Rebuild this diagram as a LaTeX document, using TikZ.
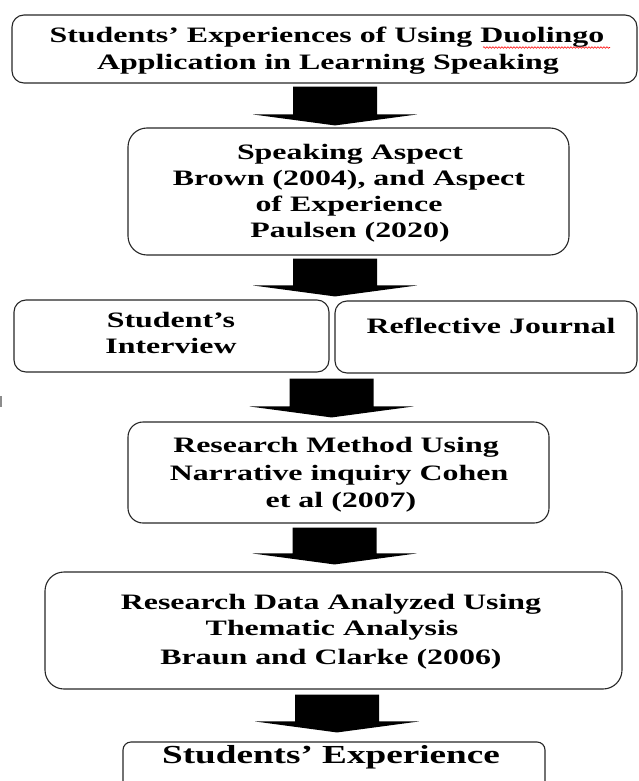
\documentclass[tikz,border=0pt]{standalone}
\usepackage{fontspec}
\setmainfont{Liberation Serif}
\usetikzlibrary{calc,decorations.pathmorphing}
\tikzset{
  box/.style={draw=black!85, line width=1.1pt, rounded corners=#1, inner sep=0pt},
  box/.default=12pt,
  txt/.style={font=\fontsize{22}{26}\selectfont\bfseries, xscale=1.45, anchor=base, inner sep=0pt},
  bigtxt/.style={font=\fontsize{26}{30}\selectfont\bfseries, xscale=1.43, anchor=base, inner sep=0pt},
  arrowfill/.style={fill=black},
  spell/.style={draw=red, line width=0.6pt, decorate, decoration={snake, amplitude=0.8pt, segment length=3pt}}
}
% block arrow: #1 centre x, #2 from node, #3 to node, #4 gap below #2, #5 gap above #3
\newcommand\blockarrow[5]{%
  \fill[arrowfill] let \p1=(#2.south), \p2=(#3.north) in
    ({#1pt-42pt},{\y1-#4pt}) -- ({#1pt+42pt},{\y1-#4pt}) --
    ({#1pt+42pt},{\y2+#5pt+11pt}) -- ({#1pt+82pt},{\y2+#5pt+11pt}) --
    ({#1pt},{\y2+#5pt}) --
    ({#1pt-82pt},{\y2+#5pt+11pt}) -- ({#1pt-42pt},{\y2+#5pt+11pt}) -- cycle;}
\begin{document}
\begin{tikzpicture}[x=1pt,y=-1pt]
\useasboundingbox (0,0) rectangle (639,781);
\clip (0,0) rectangle (639,781);

% boxes
\node[box=12pt, minimum width=625pt, minimum height=68pt] (b1) at (324.5,49) {};
\node[box=19pt, minimum width=441pt, minimum height=127pt] (b2) at (348.5,191.5) {};
\node[box=12pt, minimum width=315pt, minimum height=72pt] (b3a) at (171.5,336) {};
\node[box=12pt, minimum width=302pt, minimum height=72pt] (b3b) at (486,337) {};
\node[box=15pt, minimum width=421pt, minimum height=101pt] (b4) at (338.5,472.5) {};
\node[box=19pt, minimum width=577pt, minimum height=117pt] (b5) at (333.5,630.5) {};
\node[box=8pt, minimum width=422pt, minimum height=88pt] (b6) at (334,786) {};

% texts
\node[txt] (t1a) at (327,43) {Students’ Experiences of Using Duolingo};
\node[txt] (t1b) at (328,70) {Application in Learning Speaking};
\draw[spell] (483,47.5) -- (610,47.5);

\node[txt] (t2a) at (350,159) {Speaking Aspect};
\node[txt] (t2b) at (349,185) {Brown (2004), and Aspect};
\node[txt] (t2c) at (349,211) {of Experience};
\node[txt] (t2d) at (350,237) {Paulsen (2020)};

\node[txt] (t3a) at (171,327) {Student’s};
\node[txt] (t3b) at (171,353) {Interview};
\node[txt] (t3c) at (491,333) {Reflective Journal};

\node[txt] (t4a) at (336,452) {Research Method Using};
\node[txt] (t4b) at (339,480) {Narrative inquiry Cohen};
\node[txt] (t4c) at (341,507) {et al (2007)};

\node[txt] (t5a) at (331,609) {Research Data Analyzed Using};
\node[txt] (t5b) at (332,635) {Thematic Analysis};
\node[txt] (t5c) at (331,664) {Braun and Clarke (2006)};

\node[bigtxt] (t6a) at (331,763) {Students’ Experience};

% block arrows
\blockarrow{335}{b1}{b2}{3}{2}
\blockarrow{335}{b2}{b3a}{3}{3}
\blockarrow{331.5}{b3a}{b4}{6}{4}
\blockarrow{334.5}{b4}{b5}{4}{7}
\blockarrow{337}{b5}{b6}{5}{9}

% small mark at left edge
\draw[black!45, line width=1.2pt] (1,396) -- (1,407);
\end{tikzpicture}
\end{document}
